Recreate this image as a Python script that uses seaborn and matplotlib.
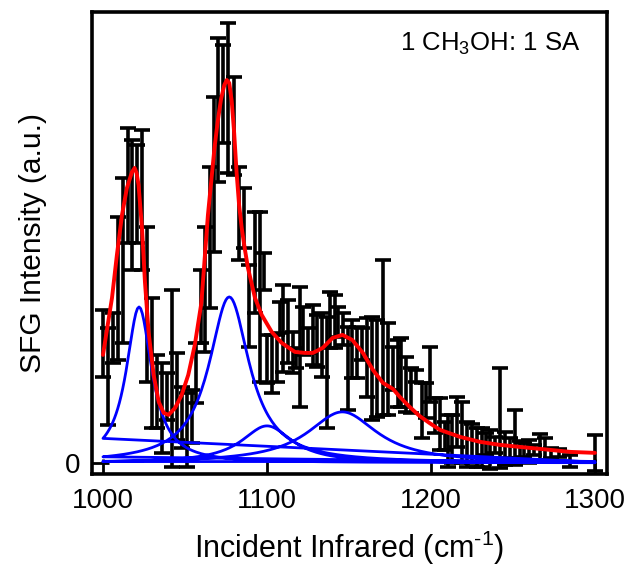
import numpy as np
import pandas as pd
import seaborn as sns
import matplotlib
matplotlib.use("Agg")
import matplotlib.pyplot as plt

# ---- measured data points (wavenumber, SFG intensity in a.u., error) ----
wavenumber = [1000, 1003, 1006, 1009, 1012, 1015, 1018, 1021, 1024, 1027,
              1030, 1033, 1036, 1039, 1042, 1045, 1048, 1051, 1054, 1057,
              1060, 1062, 1065, 1068, 1070, 1073, 1076, 1080, 1083, 1086,
              1089, 1093, 1096, 1098, 1100, 1103, 1106, 1108, 1110, 1113,
              1116, 1118, 1120, 1122, 1125, 1128, 1130.5, 1133.5, 1136.6, 1138.4,
              1141.5, 1143.3, 1146.3, 1149.4, 1151.8, 1154.9, 1157.9, 1161, 1164, 1167,
              1170.7, 1173.8, 1176.8, 1180, 1182, 1185, 1188, 1191, 1194.5, 1197,
              1199.5, 1202.4, 1205.5, 1208.5, 1210.4, 1212.8, 1215.9, 1218.9, 1222, 1225,
              1228, 1231, 1233.5, 1236, 1239, 1242, 1245, 1248, 1251, 1254,
              1257, 1260, 1263, 1266.5, 1269.5, 1273, 1278, 1284.8, 1300]
intensity = [119.5, 86.5, 125, 174.5, 202.5, 277.5, 258, 269, 263, 158.5,
             100, 71.5, 55, 66.5, 84.5, 66.5, 45.5, 33, 46.5, 90,
             156.5, 173.5, 225.5, 288.5, 353, 369, 365, 337, 249.5, 245,
             157, 200.5, 166, 191.5, 104, 99, 104.5, 145.5, 134.5, 131.5,
             110.5, 105, 116, 132, 122.5, 128, 122, 118, 90.5, 143,
             141.5, 141, 134, 94.5, 114, 110.5, 119, 105.5, 94.5, 94.5,
             125.5, 94, 94.5, 89.5, 90.5, 78.5, 72.5, 87, 52.5, 62.5,
             88.5, 47.5, 39, 27, 22, 24, 41, 30.5, 18.5, 19.5,
             15.5, 15.5, 19, 13.5, 18, 45, 14.5, 15, 25.5, 13.5,
             13, 11.5, 13, 16, 14, 10, 10, 2, 10]
error = [33.5, 48.5, 25, 71.5, 82.5, 57.5, 65, 49, 70, 77.5,
         65, 36.5, 45, 23.5, 88.5, 43.5, 30.5, 37, 26.5, 30,
         36.5, 62.5, 70.5, 77.5, 72, 49, 75, 49, 46.5, 30,
         41, 50.5, 85, 18.5, 24, 29, 23.5, 15.5, 43.5, 31.5,
         20.5, 10, 60, 24, 12.5, 30, 26, 32, 55.5, 28,
         26.5, 15, 16, 41.5, 29, 25.5, 16, 39.5, 51.5, 48.5,
         77.5, 46, 21.5, 33.5, 34.5, 27.5, 22.5, 6, 27.5, 17.5,
         27.5, 17.5, 26, 14, 26, 24, 25, 30.5, 22.5, 19.5,
         19.5, 19.5, 11, 19.5, 8, 50, 16.5, 10, 27.5, 8.5,
         7, 11.5, 5, 13, 11, 5, 4, 6, 18]

# ---- overall fit ----
fit_x = [1000, 1005.5, 1008.5, 1011.6, 1014.6, 1017.7, 1019.3, 1020.5, 1021.7, 1023.8,
         1025.6, 1027.8, 1030.9, 1034, 1037, 1040, 1044, 1048, 1052, 1056,
         1060, 1064, 1068, 1070, 1072, 1074, 1075.5, 1077, 1078.5, 1080,
         1081.5, 1083, 1084.6, 1086.5, 1088.4, 1092.7, 1096.8, 1102.9, 1109, 1117,
         1123, 1128, 1134, 1140, 1146, 1152, 1158.5, 1164.6, 1170.7, 1176.8,
         1181, 1187, 1193, 1199, 1205.5, 1217.7, 1230, 1242, 1254, 1266.5,
         1284.8, 1300]
fit_y = [108, 165, 208, 248, 275, 291, 295, 290, 278, 235,
         181, 131, 88, 61, 50, 48, 55, 68, 88, 118,
         160, 248, 315, 342, 364, 378, 383, 380, 362, 330,
         290, 258, 235, 214, 195, 165, 148, 131, 120, 111,
         110, 110, 115, 125, 128, 123, 110, 93, 80, 74,
         66, 56, 47, 40, 33, 26, 21, 18, 16, 14,
         11, 10]

# ---- individual resonance components (Lorentzian peaks) ----
peak_center = [1022, 1077, 1100, 1146]
peak_height = [156, 166, 37, 51]
peak_hwhm = [9.5, 15, 19, 26]

# ---- styling / layout ----
sns.set_style("ticks")
plt.rcParams["font.family"] = ["Liberation Sans", "DejaVu Sans"]
plt.rcParams["mathtext.default"] = "regular"
plt.rcParams["text.color"] = "black"
plt.rcParams["axes.labelcolor"] = "black"
plt.rcParams["xtick.color"] = "black"
plt.rcParams["ytick.color"] = "black"
plt.rcParams["axes.edgecolor"] = "black"

fig = plt.figure(figsize=(6.27, 5.73), dpi=100)
ax = fig.add_axes([0.1467, 0.173, 0.8213, 0.806])

ax.errorbar(wavenumber, intensity, yerr=error, fmt="none", ecolor="black",
            elinewidth=2.6, capsize=5.5, capthick=2.6, zorder=2)

# components drawn as one concatenated series (high -> low wavenumber)
grid = np.linspace(1300, 1000, 301)
comp_x, comp_y = [], []
for c, h, w in zip(peak_center, peak_height, peak_hwhm):
    comp_x.append(grid)
    comp_y.append(h / (1.0 + ((grid - c) / w) ** 2))
comp = pd.DataFrame({"x": np.concatenate(comp_x), "y": np.concatenate(comp_y)})
sns.lineplot(data=comp, x="x", y="y", sort=False, estimator=None,
             color="#0000ff", linewidth=2.0, ax=ax, zorder=3)

fit = pd.DataFrame({"x": fit_x, "y": fit_y})
sns.lineplot(data=fit, x="x", y="y", sort=False, estimator=None,
             color="#ff0000", linewidth=2.8, ax=ax, zorder=4)

ax.set_xlim(993.3, 1307.3)
ax.set_ylim(-11, 451)
ax.set_xticks([1000, 1100, 1200, 1300])
ax.set_yticks([0])
ax.tick_params(axis="x", direction="in", length=11, width=2, labelsize=20, pad=10)
ax.tick_params(axis="y", direction="in", length=12, width=2, labelsize=20, pad=8)
for s in ax.spines.values():
    s.set_linewidth(2.6)
    s.set_visible(True)
    s.set_color("black")

ax.set_xlabel("Incident Infrared (cm$^{\u20101}$)", fontsize=22, labelpad=11)
ax.set_ylabel("SFG Intensity (a.u.)", fontsize=21.5, labelpad=13)
ax.text(0.948, 0.93, "1 CH$_3$OH: 1 SA", transform=ax.transAxes,
        ha="right", va="center", fontsize=18.5, color="black")

fig.savefig("out.png", dpi=100)
